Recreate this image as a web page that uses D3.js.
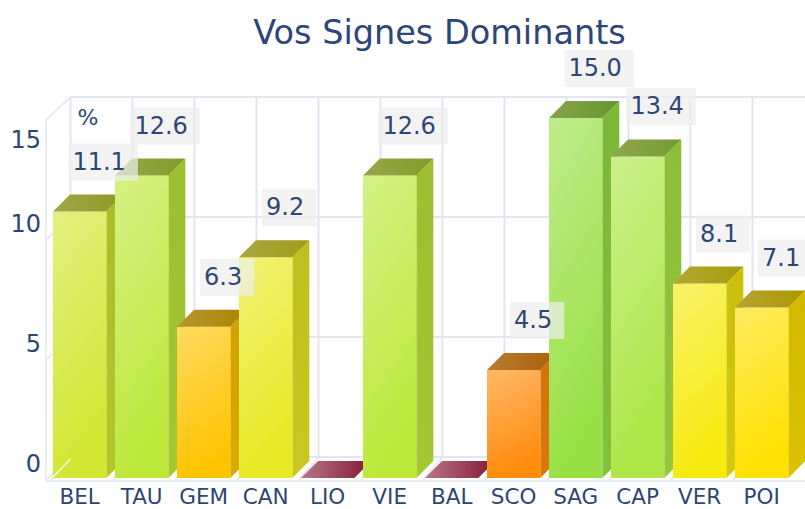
<!DOCTYPE html>
<html><head><meta charset="utf-8">
<script src="https://cdn.jsdelivr.net/npm/d3@7"></script>
<style>html,body{margin:0;padding:0;background:#fff;}svg{display:block;}</style>
</head><body>
<svg id="chart" width="805" height="509"></svg>
<script>
const categories = ["BEL","TAU","GEM","CAN","LIO","VIE","BAL","SCO","SAG","CAP","VER","POI"];
const values = [11.1, 12.6, 6.3, 9.2, 0, 12.6, 0, 4.5, 15.0, 13.4, 8.1, 7.1];
const yTicks = [0, 5, 10, 15];
const yTickLabels = ["0", "5", "10", "15"];
const title = "Vos Signes Dominants";
const axisTitle = "%";

const W = 805, H = 509;
const svg = d3.select("#chart");
const defs = svg.append("defs");
const textColor = "#2d4676";
const gridColor = "#e3e6f0";
const font = "DejaVu Sans, sans-serif";

const x = d3.scaleBand().domain(categories).range([48.66, 792.66]).paddingInner(0.14).paddingOuter(0.07);
const y = d3.scaleLinear().domain([0, 15]).range([478, 118]);
// tick label placement (perspective of the original)
const yLab = d3.scaleLinear().domain([0, 10, 15]).range([464, 224, 140]);

const bdx = 17, bdy = 17;     // bar depth
const wdx = 17.5, wdy = 21;   // wall depth
const wallFrontX = 46;

const color = d3.scaleLinear()
  .domain([0, 4.5, 6.3, 7.4, 9.2, 11.1, 12.6, 13.4, 15])
  .range(["#8b1a3a", "#ff8c0c", "#ffc400", "#ffec00", "#e8e824", "#d2e632", "#bde83a", "#ade646", "#98e044"])
  .interpolate(d3.interpolateRgb);

const bw = x.bandwidth();
const x0 = x(categories[0]);

// ---- back wall grid
const g = svg.append("g");
yTicks.forEach(v => {
  g.append("line").attr("x1", x0 + wdx).attr("x2", W).attr("y1", y(v) - wdy).attr("y2", y(v) - wdy)
    .attr("stroke", gridColor).attr("stroke-width", 2);
  g.append("line").attr("x1", wallFrontX).attr("x2", x0 + wdx).attr("y1", y(v) + 2).attr("y2", y(v) - wdy)
    .attr("stroke", gridColor).attr("stroke-width", 1.5);
});
categories.forEach(c => {
  g.append("line").attr("x1", x(c) + wdx).attr("x2", x(c) + wdx).attr("y1", y(0) - wdy).attr("y2", y(15) - wdy)
    .attr("stroke", gridColor).attr("stroke-width", 2);
  g.append("line").attr("x1", x(c) - 2).attr("x2", x(c) + wdx).attr("y1", y(0) + 2).attr("y2", y(0) - wdy)
    .attr("stroke", gridColor).attr("stroke-width", 1.5);
});
g.append("line").attr("x1", wallFrontX).attr("x2", wallFrontX).attr("y1", y(0) + 3).attr("y2", y(15) + 2)
  .attr("stroke", gridColor).attr("stroke-width", 1.5);
g.append("line").attr("x1", wallFrontX).attr("x2", W).attr("y1", y(0) + 3).attr("y2", y(0) + 3)
  .attr("stroke", gridColor).attr("stroke-width", 1.5);

// ---- bars
const bars = svg.append("g");
categories.forEach((c, i) => {
  const v = values[i];
  const base = d3.color(color(v));
  const xl = x(c), xr = xl + bw, yt = y(v), yb = y(0);
  const id = "b" + i;
  const fg = defs.append("linearGradient").attr("id", id + "f").attr("x1", 0).attr("y1", 0).attr("x2", 0.25).attr("y2", 1);
  fg.append("stop").attr("offset", 0).attr("stop-color", d3.interpolateRgb(base, "#ffffff")(0.38));
  fg.append("stop").attr("offset", 1).attr("stop-color", base.formatHex());
  const sg = defs.append("linearGradient").attr("id", id + "s").attr("x1", 0).attr("y1", 0).attr("x2", 0).attr("y2", 1);
  sg.append("stop").attr("offset", 0).attr("stop-color", base.darker(0.55).formatHex());
  sg.append("stop").attr("offset", 1).attr("stop-color", base.darker(0.42).formatHex());
  const tg = defs.append("linearGradient").attr("id", id + "t").attr("x1", 0).attr("y1", 0).attr("x2", 1).attr("y2", 0);
  if (v === 0) {
    tg.append("stop").attr("offset", 0).attr("stop-color", "#b87888");
    tg.append("stop").attr("offset", 1).attr("stop-color", "#861632");
  } else {
    tg.append("stop").attr("offset", 0).attr("stop-color", d3.interpolateRgb(base.darker(0.6), "#9a8c6c")(0.45));
    tg.append("stop").attr("offset", 1).attr("stop-color", base.darker(1.1).formatHex());
  }
  if (v > 0) {
    bars.append("path").attr("d", `M${xr},${yt}L${xr + bdx},${yt - bdy}L${xr + bdx},${yb - bdy}L${xr},${yb}Z`)
      .attr("fill", `url(#${id}s)`);
    bars.append("rect").attr("x", xl).attr("y", yt).attr("width", bw).attr("height", yb - yt)
      .attr("fill", `url(#${id}f)`);
  }
  bars.append("path").attr("d", `M${xl},${yt}L${xl + bdx},${yt - bdy}L${xr + bdx},${yt - bdy}L${xr},${yt}Z`)
    .attr("fill", `url(#${id}t)`);
});
svg.append("line").attr("x1", x0).attr("y1", y(0) - 1).attr("x2", x0 + wdx).attr("y2", y(0) - wdy + 2)
  .attr("stroke", "#ffffff").attr("stroke-opacity", 0.8).attr("stroke-width", 1.5);

// ---- value labels
const labels = svg.append("g");
categories.forEach((c, i) => {
  const v = values[i];
  if (v === 0) return;
  const cx = x(c) + bw / 2 + bdx + 2.5;
  const cy = y(v) - bdy - 33;
  const t = labels.append("text").attr("x", cx).attr("y", cy).attr("text-anchor", "middle")
    .attr("dominant-baseline", "central").attr("font-family", font).attr("font-size", 24)
    .attr("fill", textColor).text(d3.format(".1f")(v));
  const bb = t.node().getBBox();
  labels.insert("rect", () => t.node()).attr("x", bb.x - 4).attr("y", cy - 18).attr("width", bb.width + 16).attr("height", 37)
    .attr("fill", "#eeeeee").attr("fill-opacity", 0.7);
});

// ---- axes text
svg.append("g").selectAll("text").data(yTicks).join("text")
  .attr("x", 41).attr("y", d => yLab(d)).attr("text-anchor", "end").attr("dominant-baseline", "central")
  .attr("font-family", font).attr("font-size", 24).attr("fill", textColor)
  .text((d, i) => yTickLabels[i]);
svg.append("text").attr("x", 88).attr("y", 117).attr("text-anchor", "middle").attr("dominant-baseline", "central")
  .attr("font-family", font).attr("font-size", 22).attr("fill", textColor).text(axisTitle);
svg.append("g").selectAll("text").data(categories).join("text")
  .attr("x", d => x(d) + bw / 2).attr("y", 503.5).attr("text-anchor", "middle")
  .attr("font-family", font).attr("font-size", 21.5).attr("fill", textColor).text(d => d);
svg.append("text").attr("x", 439.5).attr("y", 44).attr("text-anchor", "middle")
  .attr("font-family", font).attr("font-size", 33.5).attr("fill", textColor).text(title);
</script>
</body></html>
